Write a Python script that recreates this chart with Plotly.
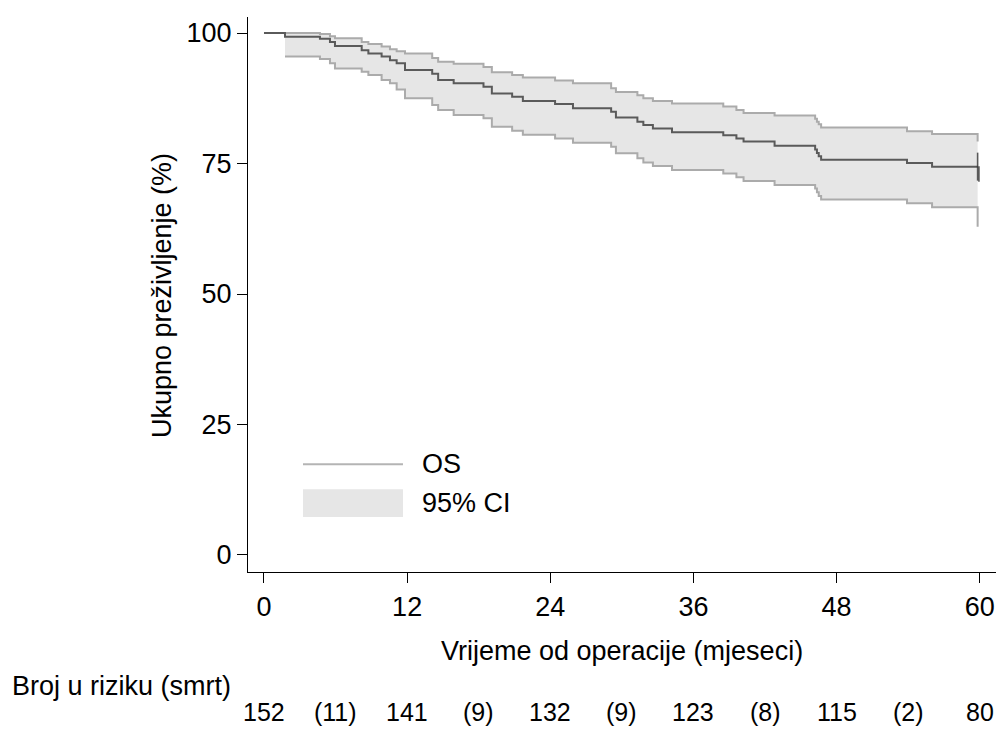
import plotly.graph_objects as go

# Kaplan-Meier overall survival
t_km = [0, 1.76, 4.69, 5.53, 5.95, 8.19, 8.75, 9.86, 10.56, 11.12, 11.82,
        14.1, 14.6, 15.9, 18.4, 19.1, 20.8, 21.7, 24.4, 25.9, 29.1, 29.5,
        31.3, 31.8, 32.6, 34.2, 38.5, 39.6, 40.2, 42.8, 46.2, 46.35, 46.5, 46.7,
        53.9, 56.0, 59.82]
s_km = [100, 99.3, 98.9, 98.3, 97.5, 96.7, 96.1, 95.5, 94.8, 94.2, 92.9,
        92.2, 91.0, 90.4, 89.7, 88.4, 87.8, 87.0, 86.4, 85.6, 84.9, 83.8,
        83.0, 82.4, 81.7, 81.0, 80.4, 79.8, 79.2, 78.4, 77.7, 77.0, 76.4, 75.7,
        75.1, 74.4, 74.4]

# 95% confidence interval (starts at first event)
t_ci = t_km[1:]
ci_upper = [100.0, 99.8, 99.4, 99.0, 98.3, 97.9, 97.4, 96.9, 96.5, 96.1,
            95.2, 94.5, 94.1, 93.5, 92.5, 91.95, 91.5, 90.9, 90.4, 89.4, 88.7,
            88.1, 87.5, 87.0, 86.5, 85.9, 85.25, 84.7, 84.2, 83.6, 83.0, 82.5, 81.9,
            81.2, 80.65, 79.2]
ci_lower = [95.5, 95.0, 94.2, 93.2, 92.6, 91.95, 91.0, 90.4, 89.2, 87.5,
            86.2, 85.25, 84.3, 83.65, 82.05, 81.3, 80.5, 79.8, 79.0, 78.2, 76.95,
            76.0, 75.2, 74.5, 73.75, 73.1, 72.35, 71.65, 70.9, 70.2, 69.5, 68.8, 68.1,
            67.4, 66.6, 62.9]

# censoring ticks at end of follow-up
cens_t = [59.82, 59.93]
cens_s = [74.4, 73.0]
cens_size = [20, 11]

# number at risk table
risk_t = [0, 6, 12, 18, 24, 30, 36, 42, 48, 54, 60]
risk_lbl = ["152", "(11)", "141", "(9)", "132", "(9)", "123", "(8)", "115", "(2)", "80"]

x_ticks = [0, 12, 24, 36, 48, 60]
y_ticks = [0, 25, 50, 75, 100]

FONT = "Liberation Sans, Arial, sans-serif"
FS = 27
FS_RISK = 25
DARK = "#5a5a5a"
LIGHT = "#ababab"
FILL = "#e6e6e6"

fig = go.Figure()
fig.add_trace(go.Scatter(x=t_ci, y=ci_lower, mode="lines", line=dict(color=LIGHT, width=2, shape="hv"),
                         showlegend=False, hoverinfo="skip"))
fig.add_trace(go.Scatter(x=t_ci, y=ci_upper, mode="lines", line=dict(color=LIGHT, width=2, shape="hv"),
                         fill="tonexty", fillcolor=FILL, showlegend=False, hoverinfo="skip"))
fig.add_trace(go.Scatter(x=t_km, y=s_km, mode="lines", line=dict(color=DARK, width=2, shape="hv"),
                         showlegend=False))
fig.add_trace(go.Scatter(x=cens_t, y=cens_s, mode="markers",
                         marker=dict(symbol="line-ns", size=cens_size, line=dict(color="#1a1a1a", width=1.6)),
                         showlegend=False, hoverinfo="skip", cliponaxis=False))

# manual legend inside plot
fig.add_shape(type="line", xref="x", yref="y", x0=3.27, x1=11.65, y0=17.4, y1=17.4,
              line=dict(color="#b4b4b4", width=2))
fig.add_shape(type="rect", xref="x", yref="y", x0=3.27, x1=11.65, y0=7.3, y1=12.6,
              line=dict(width=0), fillcolor=FILL)
fig.add_annotation(x=13.1, y=17.4, xref="x", yref="y", text="OS", showarrow=False,
                   xanchor="left", yanchor="middle", font=dict(family=FONT, size=FS, color="black"))
fig.add_annotation(x=13.1, y=9.95, xref="x", yref="y", text="95% CI", showarrow=False,
                   xanchor="left", yanchor="middle", font=dict(family=FONT, size=FS, color="black"))

# axis titles
fig.add_annotation(x=0.5, y=-0.1423, xref="paper", yref="paper", text="Vrijeme od operacije (mjeseci)",
                   showarrow=False, xanchor="center", yanchor="middle",
                   font=dict(family=FONT, size=FS, color="black"))
fig.add_annotation(x=-0.115, y=0.499, xref="paper", yref="paper", text="Ukupno preživljenje (%)",
                   showarrow=False, textangle=-90, xanchor="center", yanchor="middle",
                   font=dict(family=FONT, size=FS, color="black"))

# risk table
fig.add_annotation(x=-0.318, y=-0.205, xref="paper", yref="paper", text="Broj u riziku (smrt)",
                   showarrow=False, xanchor="left", yanchor="middle",
                   font=dict(family=FONT, size=FS, color="black"))
for tt, lbl in zip(risk_t, risk_lbl):
    fig.add_annotation(x=tt, y=-0.2523, xref="x", yref="paper", text=lbl, showarrow=False,
                       xanchor="center", yanchor="middle", font=dict(family=FONT, size=FS_RISK, color="black"))

fig.update_layout(
    width=996, height=729,
    margin=dict(l=248, r=0, t=17, b=157, pad=0),
    paper_bgcolor="white", plot_bgcolor="white",
    font=dict(family=FONT, size=FS, color="black"),
    showlegend=False,
)
fig.update_xaxes(range=[-1.34, 61.36], tickvals=x_ticks, ticks="outside", ticklen=10, tickwidth=1.3,
                 tickcolor="black", showline=True, linecolor="black", linewidth=1.3, showgrid=False,
                 zeroline=False, tickfont=dict(family=FONT, size=FS, color="black"))
fig.update_yaxes(range=[-3.26, 103.07], tickvals=y_ticks, ticks="outside", ticklen=10, tickwidth=1.3,
                 tickcolor="black", showline=True, linecolor="black", linewidth=1.3, showgrid=False,
                 zeroline=False, tickfont=dict(family=FONT, size=FS, color="black"))

fig.write_html("out.html", config={"displayModeBar": False},
               post_script="document.body.style.margin='0';document.body.style.overflow='hidden';")
